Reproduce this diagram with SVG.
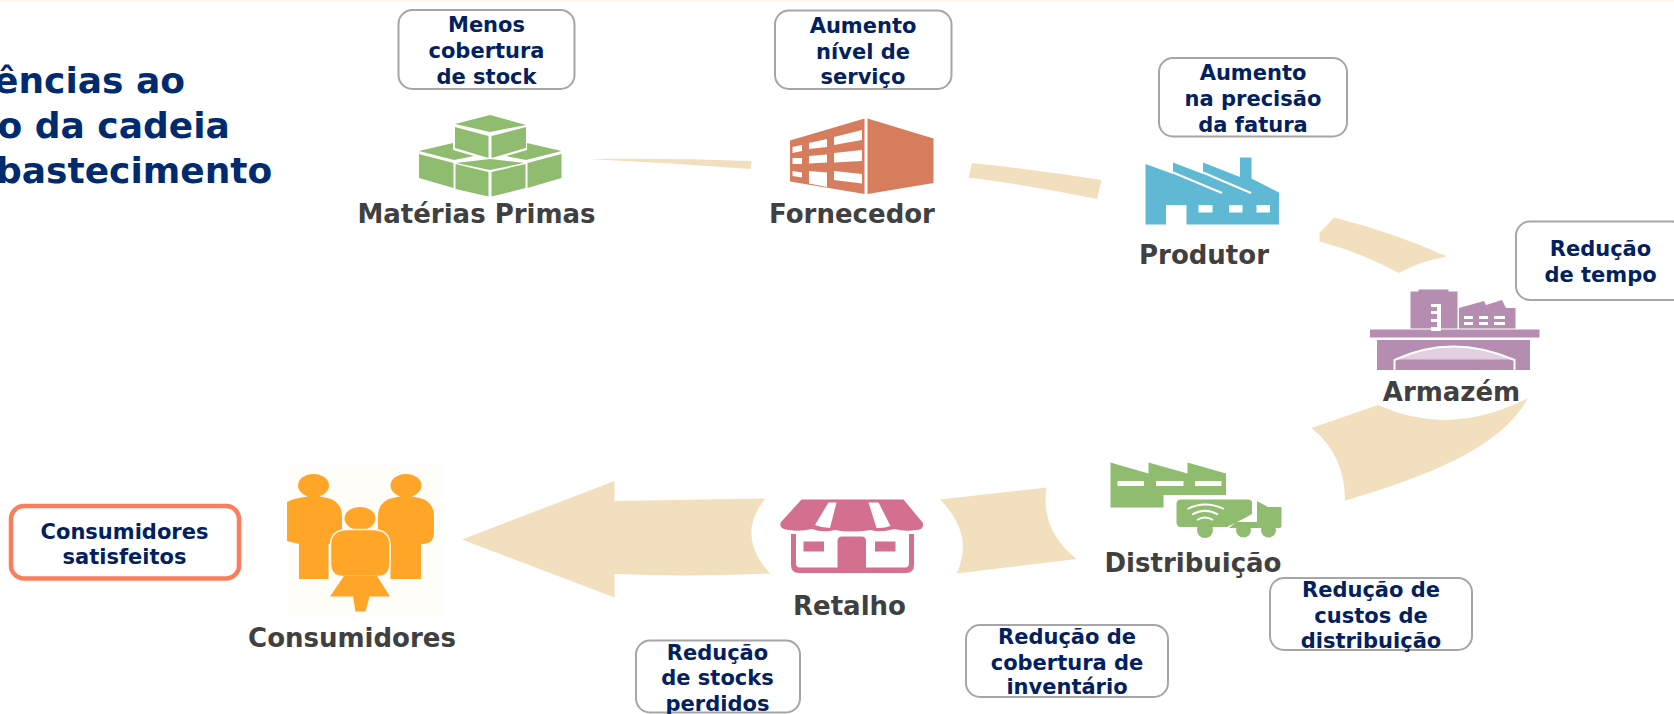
<svg xmlns="http://www.w3.org/2000/svg" width="1674" height="714" viewBox="0 0 1674 714">
<style>
text{font-family:"DejaVu Sans","Verdana",sans-serif;font-weight:700;text-anchor:middle}
.lab{font-size:21px;fill:#03215f}
.node{font-size:26px;fill:#404040}
.title{font-size:36px;fill:#002b6e;text-anchor:start}
.box{fill:#fff;stroke:#a6a6a6;stroke-width:2}
.arrow{fill:#f2dfbe}
.g{fill:#8fbc6f}.w{fill:#fff}
</style>
<rect width="1674" height="714" fill="#fff"/>
<rect width="1674" height="1.5" fill="#fdf4ee"/>
<g id="title">
<text class="title" x="-6" y="93">ências ao</text>
<text class="title" x="-2.5" y="138">o da cadeia</text>
<text class="title" x="-4" y="183">bastecimento</text>
</g>
<g id="connectors">
<path class="arrow" d="M588,159 Q670,158 751.5,161 L750.5,169 Q670,163 588,159Z"/>
<path class="arrow" d="M972,163 Q1040,170 1101.5,180 L1097,199 Q1035,186 968.5,177.5Z"/>
<path class="arrow" d="M1334,217.5 Q1395,233 1447,256.5 Q1420,261 1399,273 Q1360,252 1319.5,241.5 L1319.5,233Z"/>
<path class="arrow" d="M1378,405 Q1450,438 1528,398 C1505,440 1450,470 1345,500.5 Q1345,455 1311.5,428Z"/>
<path class="arrow" d="M940,499.5 L1046.5,487.5 Q1040,530 1076.5,559 L956.5,573.5 Q975,535 940,499.5Z"/>
<path class="arrow" d="M462,539.5 L614.5,481 V501 L765.5,498.5 Q735,535 770,573.5 Q690,577 614.5,574 V597.5Z"/>
</g>
<g id="materias-primas">
<g class="g">
<path d="M490,115 526,125 490,132 455,124Z"/>
<path d="M455,127 488.500,136 488.500,158 455,148Z"/>
<path d="M491.500,136 526,127 526,148 491.500,158Z"/>
<path d="M419,151 453,143 453,150 474,156 454,160Z"/>
<path d="M527,143 561.500,151 526,160 506,156 527,150Z"/>
<path d="M490,159 524,163 490,170 456,163Z"/>
<path d="M419,154 453.500,163 453.500,188 419,178Z"/>
<path d="M455.500,164 488.500,172 488.500,196.500 455.500,189Z"/>
<path d="M491.500,172 525.500,164 525.500,188 491.500,196.500Z"/>
<path d="M527.500,163 561.500,154 561.500,178 527.500,188Z"/>
</g>
<text class="node" x="476.500" y="222.500">Matérias Primas</text>
<rect class="box" x="398.500" y="10" width="176" height="79" rx="14"/>
<text class="lab" x="486.500" y="32">Menos</text>
<text class="lab" x="486.500" y="58">cobertura</text>
<text class="lab" x="486.500" y="84">de stock</text>
</g>
<g id="fornecedor">
<path fill="#d67d5e" d="M790,140.500 864.500,118.500 V194 L790,181.500Z"/>
<path fill="#d67d5e" d="M867.500,118.500 933.500,138.500 V183 L867.500,194Z"/>
<g class="w">
<path d="M792.500,147 802,145 V151 L792.500,153Z"/>
<path d="M809,143 827,139 V147 L809,149Z"/>
<path d="M834,137 862,130 V140 L834,145Z"/>
<path d="M792.500,158 802,158 V164 L792.500,164Z"/>
<path d="M809,156 827,154.500 V162.500 L809,163.500Z"/>
<path d="M834,153 862,150 V161 L834,162.500Z"/>
<path d="M792.500,171 802,172.500 V177.500 L792.500,176Z"/>
<path d="M809,171 827,172.500 V187 L809,183.500Z"/>
<path d="M834,171 862,174 V183.500 L834,180Z"/>
</g>
<text class="node" x="852" y="222.500">Fornecedor</text>
<rect class="box" x="775" y="10.500" width="176.500" height="78.500" rx="14"/>
<text class="lab" x="863" y="33">Aumento</text>
<text class="lab" x="863" y="58.500">nível de</text>
<text class="lab" x="863" y="83.500">serviço</text>
</g>
<g id="produtor">
<path fill="#5fb9d4" d="M1145.500,164 1173,174 V162.500 L1203,174 V162.500 L1240,177 V157.500 H1251.500 V178.500 L1279,192.500 V224.500 H1186.500 V205 H1166 V224.500 H1145.500Z"/>
<g class="w">
<path d="M1173,172.500 1222,193" stroke="#fff" stroke-width="2" fill="none"/>
<path d="M1203,172.500 1251,193" stroke="#fff" stroke-width="2" fill="none"/>
<rect x="1198.500" y="205" width="14" height="7.500"/>
<rect x="1229" y="205" width="13.500" height="7.500"/>
<rect x="1256.500" y="205" width="13.500" height="7.500"/>
</g>
<text class="node" x="1204" y="263.500">Produtor</text>
<rect class="box" x="1159" y="58" width="188" height="78.500" rx="14"/>
<text class="lab" x="1253" y="80">Aumento</text>
<text class="lab" x="1253" y="106">na precisão</text>
<text class="lab" x="1253" y="131.500">da fatura</text>
</g>
<g id="armazem">
<g fill="#b48db0">
<path d="M1410.500,291.500 H1418.500 V289.500 H1448.500 V291.500 H1457.500 V328.500 H1410.500Z"/>
<path d="M1459,308 1484,301 1486,305 1502,300 1506,308 H1515.500 V328.500 H1459Z"/>
<rect x="1370" y="329.500" width="169.500" height="8"/>
<rect x="1377" y="340" width="153" height="30"/>
</g>
<g class="w">
<path d="M1431,304 H1441 V331 H1431 V327 H1437 V322 H1431 V319 H1437 V314 H1431 V311 H1437 V307 H1431Z"/>
<rect x="1464" y="316" width="9" height="3"/><rect x="1479" y="316" width="9" height="3"/><rect x="1494" y="316" width="11" height="3"/>
<rect x="1464" y="322" width="9" height="3"/><rect x="1479" y="322" width="9" height="3"/><rect x="1494" y="322" width="11" height="3"/>
</g>
<path d="M1395,359.500 Q1452,334 1514,359.500Z" fill="#e2cfe0"/>
<path d="M1394.500,370 V360 Q1452,333 1514.500,360 V370" fill="none" stroke="#fff" stroke-width="2"/>
<text class="node" x="1451.500" y="400.500">Armazém</text>
<rect class="box" x="1516" y="221.500" width="170" height="78.500" rx="14"/>
<text class="lab" x="1600.500" y="256">Redução</text>
<text class="lab" x="1600.500" y="281.500">de tempo</text>
</g>
<g id="distribuicao">
<path class="g" d="M1110.500,462.500 1148.500,473.500 V462.500 L1187.500,473.500 V462.500 L1226,473.500 V495 H1163.500 V507.500 H1110.500Z"/>
<g class="w">
<rect x="1117.500" y="481" width="26.500" height="5"/>
<rect x="1156" y="481" width="27.500" height="5"/>
<rect x="1195" y="481" width="26.500" height="5"/>
</g>
<g class="g">
<path d="M1181,499.500 H1248 Q1252,499.500 1252,503 V514 L1243,519 1227,527 H1181 Q1176.500,527 1176.500,522 V504 Q1176.500,499.500 1181,499.500Z"/>
<path d="M1257,501 1268,507 H1281.500 V526 Q1281.500,528 1278,528 H1229 L1236,522 H1257Z"/>
<circle cx="1205" cy="530" r="8"/><circle cx="1243.500" cy="530" r="7.500"/><circle cx="1268.500" cy="530" r="7.500"/>
</g>
<g fill="none" stroke="#fff" stroke-width="1.800">
<path d="M1187.500,509 Q1205,500 1224,509"/>
<path d="M1192,514.500 Q1205,507 1218,514.500"/>
<path d="M1197,520 Q1205,515 1213,520"/>
</g>
<text class="node" x="1193" y="571.500">Distribuição</text>
<rect class="box" x="1270" y="578" width="202" height="72" rx="14"/>
<text class="lab" x="1371" y="596.500">Redução de</text>
<text class="lab" x="1371" y="622.500">custos de</text>
<text class="lab" x="1371" y="647.500">distribuição</text>
</g>
<g id="retalho">
<g fill="#d4708f">
<path d="M801.500,499.500 H903.500 L923,523 Q924,530 916,530 Q905,532 894,529 Q880,533 871,530 Q850,533 835,530 Q822,533 812,529 Q800,532 789,530 Q778,529 781,522Z"/>
<path d="M791,534 V565 Q791,573 799,573 H906 Q914,573 914,565 V534 H909 V563 Q909,567.500 905,567.500 H800 Q796,567.500 796,563 V534Z"/>
<path d="M837.500,570 V541 Q837.500,536.500 842,536.500 H861.500 Q866,536.500 866,541 V570Z"/>
<rect x="803.500" y="541.500" width="20.500" height="10"/>
<rect x="875" y="541.500" width="20.500" height="10"/>
</g>
<g class="w">
<path d="M828.500,502.500 H836.500 L830,528 Q822,528 815,525Z"/>
<path d="M868.500,502.500 H878.500 L890.500,526 Q884,528.500 876.500,528Z"/>
</g>
<text class="node" x="849.500" y="615">Retalho</text>
<rect class="box" x="966" y="625" width="202" height="72" rx="14"/>
<text class="lab" x="1067" y="644">Redução de</text>
<text class="lab" x="1067" y="670">cobertura de</text>
<text class="lab" x="1067" y="694">inventário</text>
<rect class="box" x="636" y="640.500" width="164" height="72" rx="14"/>
<text class="lab" x="717.500" y="659.500">Redução</text>
<text class="lab" x="717.500" y="685">de stocks</text>
<text class="lab" x="717.500" y="710.500">perdidos</text>
</g>
<g id="consumidores">
<rect x="287" y="465" width="154.500" height="150" fill="#fffdf8"/>
<g fill="#ffa629">
<ellipse cx="313.500" cy="485.500" rx="15.500" ry="11.500"/>
<ellipse cx="406" cy="485.500" rx="15.500" ry="11.500"/>
<rect x="307" y="493" width="13" height="6"/>
<rect x="399.500" y="493" width="13" height="6"/>
<rect x="353.500" y="526" width="13" height="6"/>
<path d="M287,502 Q297,496.500 314,496.500 Q330,496.500 336,502 Q342,507 342,516 V535 Q342,543 333,544 H328.500 V579 H299 V544 L287,541Z"/>
<path d="M378,516 Q378,507 384,502 Q390,496.500 406,496.500 Q422,496.500 428,502 Q434,507 434,516 V533 Q434,543 424,544 H421 V579 H390.500 V544 L378,540Z"/>
<ellipse cx="360" cy="518.500" rx="15.500" ry="11.500"/>
<path d="M330.500,545 Q330.500,529.500 348,529.500 H372 Q390,529.500 390,545 V563 Q390,576.500 377.500,576.500 H343 Q330.500,576.500 330.500,563Z" stroke="#fff8e8" stroke-width="1.500"/>
<path d="M344,576 H377 L390,596.500 H369.500 L365.500,611.500 H355.500 L353,596.500 H330Z"/>
</g>
<text class="node" x="352" y="646.500">Consumidores</text>
<rect x="11" y="506" width="228" height="72.500" rx="13" fill="#fff" stroke="#f97f5c" stroke-width="4.500"/>
<text class="lab" x="124.500" y="538.500">Consumidores</text>
<text class="lab" x="124.500" y="563.500">satisfeitos</text>
</g>
</svg>
